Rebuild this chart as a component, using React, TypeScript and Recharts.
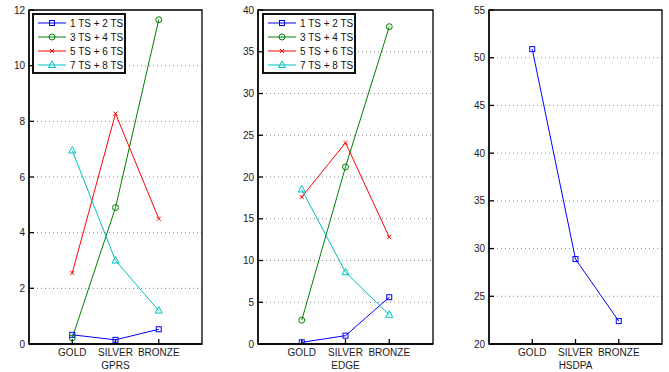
import React from 'react';
import { LineChart, Line, XAxis, YAxis, CartesianGrid, Legend, Label, ReferenceArea } from 'recharts';

// categories on the x axis (placed at 1, 2, 3 on a 0..4 scale)
const grades = ['GOLD', 'SILVER', 'BRONZE'];
const gradePos = [1, 2, 3];

const seriesNames = ['1 TS + 2 TS', '3 TS + 4 TS', '5 TS + 6 TS', '7 TS + 8 TS'];

// GPRS panel
const gprsTs12 = [0.33, 0.15, 0.53];
const gprsTs34 = [0.22, 4.9, 11.65];
const gprsTs56 = [2.55, 8.28, 4.5];
const gprsTs78 = [6.95, 3.0, 1.2];
const gprsTicks = [0, 2, 4, 6, 8, 10, 12];

// EDGE panel
const edgeTs12 = [0.2, 1.0, 5.6];
const edgeTs34 = [2.85, 21.2, 38.0];
const edgeTs56 = [17.6, 24.1, 12.8];
const edgeTs78 = [18.5, 8.6, 3.5];
const edgeTicks = [0, 5, 10, 15, 20, 25, 30, 35, 40];

// HSDPA panel
const hsdpaTs12 = [50.9, 28.9, 22.4];
const hsdpaTicks = [20, 25, 30, 35, 40, 45, 50, 55];

type Kind = 'square' | 'circle' | 'x' | 'triangle';
type Series = { key: string; name: string; color: string; kind: Kind };

const series: Series[] = [
  { key: 's1', name: seriesNames[0], color: '#0000ff', kind: 'square' },
  { key: 's2', name: seriesNames[1], color: '#008000', kind: 'circle' },
  { key: 's3', name: seriesNames[2], color: '#ff0000', kind: 'x' },
  { key: 's4', name: seriesNames[3], color: '#00bfbf', kind: 'triangle' },
];

const gprsData = gradePos.map((x, i) => ({
  x,
  s1: gprsTs12[i],
  s2: gprsTs34[i],
  s3: gprsTs56[i],
  s4: gprsTs78[i],
}));
const edgeData = gradePos.map((x, i) => ({
  x,
  s1: edgeTs12[i],
  s2: edgeTs34[i],
  s3: edgeTs56[i],
  s4: edgeTs78[i],
}));
const hsdpaData = gradePos.map((x, i) => ({ x, s1: hsdpaTs12[i] }));

function Marker({ kind, cx, cy, color }: { kind: Kind; cx: number; cy: number; color: string }) {
  switch (kind) {
    case 'square':
      return <rect x={cx - 2.5} y={cy - 2.5} width={5} height={5} fill="none" stroke={color} />;
    case 'circle':
      return <circle cx={cx} cy={cy} r={3} fill="none" stroke={color} />;
    case 'x':
      return (
        <path
          d={`M${cx - 2},${cy - 2}L${cx + 2},${cy + 2}M${cx - 2},${cy + 2}L${cx + 2},${cy - 2}`}
          stroke={color}
          fill="none"
        />
      );
    default:
      return (
        <path
          d={`M${cx},${cy - 4}L${cx + 3.5},${cy + 2.5}L${cx - 3.5},${cy + 2.5}Z`}
          fill="none"
          stroke={color}
        />
      );
  }
}

function LegendBox({ items }: { items: Series[] }) {
  return (
    <div
      style={{
        border: '2px solid #111',
        background: '#fff',
        width: 94,
        boxSizing: 'border-box',
        padding: '1px 0 0 4px',
      }}
    >
      {items.map((s) => (
        <div key={s.key} style={{ display: 'flex', alignItems: 'center', height: 14, fontSize: 10, color: '#111' }}>
          <svg width={30} height={14}>
            <line x1={0} x2={28} y1={7} y2={7} stroke={s.color} />
            <Marker kind={s.kind} cx={14} cy={7} color={s.color} />
          </svg>
          <span style={{ marginLeft: 2, whiteSpace: 'nowrap' }}>{s.name}</span>
        </div>
      ))}
    </div>
  );
}

const emptyTick = () => <g />;
const axisLine = { stroke: '#000', strokeWidth: 1.3 };

function Panel({
  left,
  width,
  yWidth,
  data,
  items,
  domain,
  ticks,
  title,
  legendLeft,
}: {
  left: number;
  width: number;
  yWidth: number;
  data: any[];
  items: Series[];
  domain: [number, number];
  ticks: number[];
  title: string;
  legendLeft?: number;
}) {
  return (
    <div style={{ position: 'absolute', left, top: 0 }}>
      <LineChart width={width} height={372} data={data} margin={{ top: 10, right: 10, bottom: 0, left: 0 }}>
        <CartesianGrid vertical={false} stroke="#8a8a8a" strokeDasharray="1 3" />
        <XAxis
          dataKey="x"
          type="number"
          domain={[0, 4]}
          ticks={gradePos}
          interval={0}
          tickFormatter={(v: number) => grades[v - 1]}
          height={28}
          tickSize={-5}
          tickMargin={10}
          stroke="#000"
          axisLine={axisLine}
          tickLine={axisLine}
          tick={{ fill: '#1a1a1a', fontSize: 10 }}
          allowDataOverflow
        >
          <Label value={title} position="insideBottom" offset={3} fill="#1a1a1a" fontSize={10} />
        </XAxis>
        <XAxis
          xAxisId="top"
          orientation="top"
          type="number"
          domain={[0, 4]}
          ticks={gradePos}
          interval={0}
          height={0}
          tickSize={-5}
          stroke="#000"
          axisLine={axisLine}
          tickLine={axisLine}
          tick={emptyTick}
          allowDataOverflow
        />
        <YAxis
          type="number"
          domain={domain}
          ticks={ticks}
          interval={0}
          width={yWidth}
          tickSize={-5}
          tickMargin={9}
          stroke="#000"
          axisLine={axisLine}
          tickLine={axisLine}
          tick={{ fill: '#1a1a1a', fontSize: 10 }}
          allowDataOverflow
        />
        <YAxis
          yAxisId="right"
          orientation="right"
          type="number"
          domain={domain}
          ticks={ticks}
          interval={0}
          width={0}
          tickSize={-5}
          stroke="#000"
          axisLine={axisLine}
          tickLine={axisLine}
          tick={emptyTick}
          allowDataOverflow
        />
        <ReferenceArea
          x1={0}
          x2={4}
          y1={domain[0]}
          y2={domain[1]}
          fill="none"
          stroke="#000"
          strokeWidth={1.3}
          ifOverflow="visible"
        />
        {legendLeft !== undefined && (
          <Legend
            layout="horizontal"
            verticalAlign="middle"
            align="center"
            wrapperStyle={{ left: legendLeft, top: 13, width: 'auto' }}
            content={() => <LegendBox items={items} />}
          />
        )}
        {items.map((s) => (
          <Line
            key={s.key}
            dataKey={s.key}
            name={s.name}
            stroke={s.color}
            strokeWidth={1}
            isAnimationActive={false}
            activeDot={false}
            dot={(p: any) => <Marker key={`${s.key}-${p.index}`} kind={s.kind} cx={p.cx} cy={p.cy} color={s.color} />}
          />
        ))}
      </LineChart>
    </div>
  );
}

export default function App() {
  return (
    <div
      style={{
        position: 'absolute',
        left: 0,
        top: 0,
        width: 669,
        height: 372,
        overflow: 'hidden',
        background: '#fff',
        fontFamily: '"Liberation Sans", Arial, sans-serif',
      }}
    >
      <Panel
        left={0}
        width={212}
        yWidth={29}
        data={gprsData}
        items={series}
        domain={[0, 12]}
        ticks={gprsTicks}
        title="GPRS"
        legendLeft={32}
      />
      <Panel
        left={220}
        width={223}
        yWidth={38}
        data={edgeData}
        items={series}
        domain={[0, 40]}
        ticks={edgeTicks}
        title="EDGE"
        legendLeft={42}
      />
      <Panel
        left={450}
        width={222}
        yWidth={39}
        data={hsdpaData}
        items={[series[0]]}
        domain={[20, 55]}
        ticks={hsdpaTicks}
        title="HSDPA"
      />
    </div>
  );
}
